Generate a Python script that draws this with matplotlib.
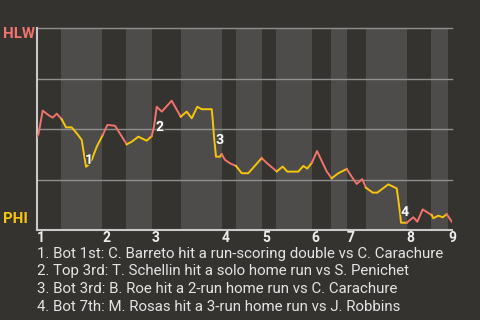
import matplotlib
matplotlib.use("Agg")
import matplotlib.pyplot as plt
import matplotlib.patheffects as pe

plt.rcParams['font.family'] = ['Roboto', 'DejaVu Sans']

# game progress (0-100) and HLW win probability
progress = [0.0, 0.43, 1.44, 2.24, 3.03, 3.85, 4.81, 6.02, 7.05, 8.42,
            9.62, 10.83, 11.21, 11.86, 12.42, 13.23, 14.44, 15.88, 16.99, 18.84,
            21.66, 22.86, 24.45, 26.47, 27.67, 28.22, 28.87, 30.08, 32.48, 34.65,
            36.09, 37.30, 38.64, 39.70, 42.11, 42.35, 42.66, 43.14, 44.11, 44.51,
            45.31, 46.51, 47.95, 49.33, 50.91, 54.14, 55.34, 57.75, 59.19, 60.30,
            62.95, 64.15, 65.11, 66.24, 67.44, 69.78, 70.98, 72.57, 74.59, 75.79,
            77.00, 78.34, 79.23, 80.85, 81.95, 84.60, 86.62, 87.01, 87.42, 87.66,
            89.03, 90.62, 91.58, 92.88, 95.04, 95.43, 96.63, 97.69, 98.65, 100.0]
win_prob = [0.459, 0.475, 0.591, 0.578, 0.566, 0.556, 0.576, 0.548, 0.508, 0.508,
            0.479, 0.446, 0.396, 0.313, 0.322, 0.347, 0.412, 0.470, 0.520, 0.516,
            0.424, 0.437, 0.462, 0.442, 0.465, 0.511, 0.610, 0.586, 0.640, 0.561,
            0.586, 0.553, 0.610, 0.598, 0.598, 0.545, 0.462, 0.363, 0.363, 0.375,
            0.347, 0.330, 0.317, 0.281, 0.281, 0.356, 0.332, 0.290, 0.314, 0.289,
            0.289, 0.317, 0.304, 0.334, 0.391, 0.290, 0.256, 0.281, 0.302, 0.264,
            0.228, 0.252, 0.209, 0.185, 0.185, 0.226, 0.206, 0.149, 0.083, 0.036,
            0.036, 0.063, 0.041, 0.102, 0.074, 0.058, 0.071, 0.063, 0.078, 0.038]

# half-inning start positions (top 1st, bot 1st, top 2nd, ...), plus game end
half_starts = [0.0, 5.85, 15.71, 21.49, 27.67, 34.72, 44.51, 47.88, 54.28,
               57.58, 66.17, 70.81, 74.59, 79.23, 89.03, 94.87, 98.96]
game_end = 100.0
innings = ['1', '2', '3', '4', '5', '6', '7', '8', '9']

# numbered events: label, progress, win prob
event_labels = ['1', '2', '3', '4']
event_x = [12.58, 29.67, 44.11, 88.62]
event_y = [0.347, 0.510, 0.446, 0.089]
events = [
    "1. Bot 1st: C. Barreto hit a run-scoring double vs C. Carachure",
    "2. Top 3rd: T. Schellin hit a solo home run vs S. Penichet",
    "3. Bot 3rd: B. Roe hit a 2-run home run vs C. Carachure",
    "4. Bot 7th: M. Rosas hit a 3-run home run vs J. Robbins",
]

away_team, home_team = 'HLW', 'PHI'
away_color, home_color = '#f2736c', '#f7c50c'
bg = '#353330'
band = '#4d4c4a'

fig = plt.figure(figsize=(4.8, 3.2), dpi=100, facecolor=bg)
ax = fig.add_axes([0.0765, 0.28125, 0.8658, 0.63125])
ax.set_facecolor(bg)
ax.set_xlim(0, game_end)
ax.set_ylim(0, 1)

# shade bottom halves
bounds = half_starts + [game_end]
for i in range(len(half_starts)):
    if i % 2 == 1:
        ax.axvspan(bounds[i], bounds[i + 1], color=band, lw=0, zorder=0)

for g in [0.25, 0.5, 0.75, 1.0]:
    ax.axhline(g, color='#8f8f8f', lw=1, zorder=1, clip_on=False)


def half_of(x):
    idx = 0
    for i, s in enumerate(half_starts):
        if x >= s:
            idx = i
    return idx


# colour each segment by the half-inning it falls in
seg_colors = []
for i in range(1, len(progress)):
    mid = (progress[i - 1] + progress[i]) / 2
    seg_colors.append(away_color if half_of(mid) % 2 == 0 else home_color)

start = 0
for i in range(1, len(seg_colors) + 1):
    if i == len(seg_colors) or seg_colors[i] != seg_colors[start]:
        ax.plot(progress[start:i + 1], win_prob[start:i + 1], color=seg_colors[start],
                lw=1.4, solid_joinstyle='round', zorder=3)
        start = i

for lab, x, y in zip(event_labels, event_x, event_y):
    ax.text(x, y, lab, color='white', fontsize=10, fontweight='bold',
            ha='center', va='center', zorder=4,
            path_effects=[pe.withStroke(linewidth=1.5, foreground='#444444')])

for s in ['top', 'right']:
    ax.spines[s].set_visible(False)
for s in ['left', 'bottom']:
    ax.spines[s].set_color('#c9c9c9')
    ax.spines[s].set_linewidth(1.5)
ax.set_xticks([])
ax.set_yticks([])

for k, lab in enumerate(innings):
    ax.text(half_starts[2 * k], -0.057, lab, transform=ax.get_xaxis_transform(),
            color='#eeeeee', fontsize=10, fontweight='bold', ha='left', va='baseline')

fig.text(2.5 / 480, 1 - 33.5 / 320, away_team, color=away_color, fontsize=10.8,
         fontweight='bold', ha='left', va='center')
fig.text(2.5 / 480, 1 - 219.3 / 320, home_team, color=home_color, fontsize=10.8,
         fontweight='bold', ha='left', va='center')

for k, line in enumerate(events):
    fig.text(37 / 480, 1 - (257.7 + 17.7 * k) / 320, line, color='#e4e4e4',
             fontsize=10.8, ha='left', va='baseline')

fig.savefig('out.png', dpi=100, facecolor=bg)
